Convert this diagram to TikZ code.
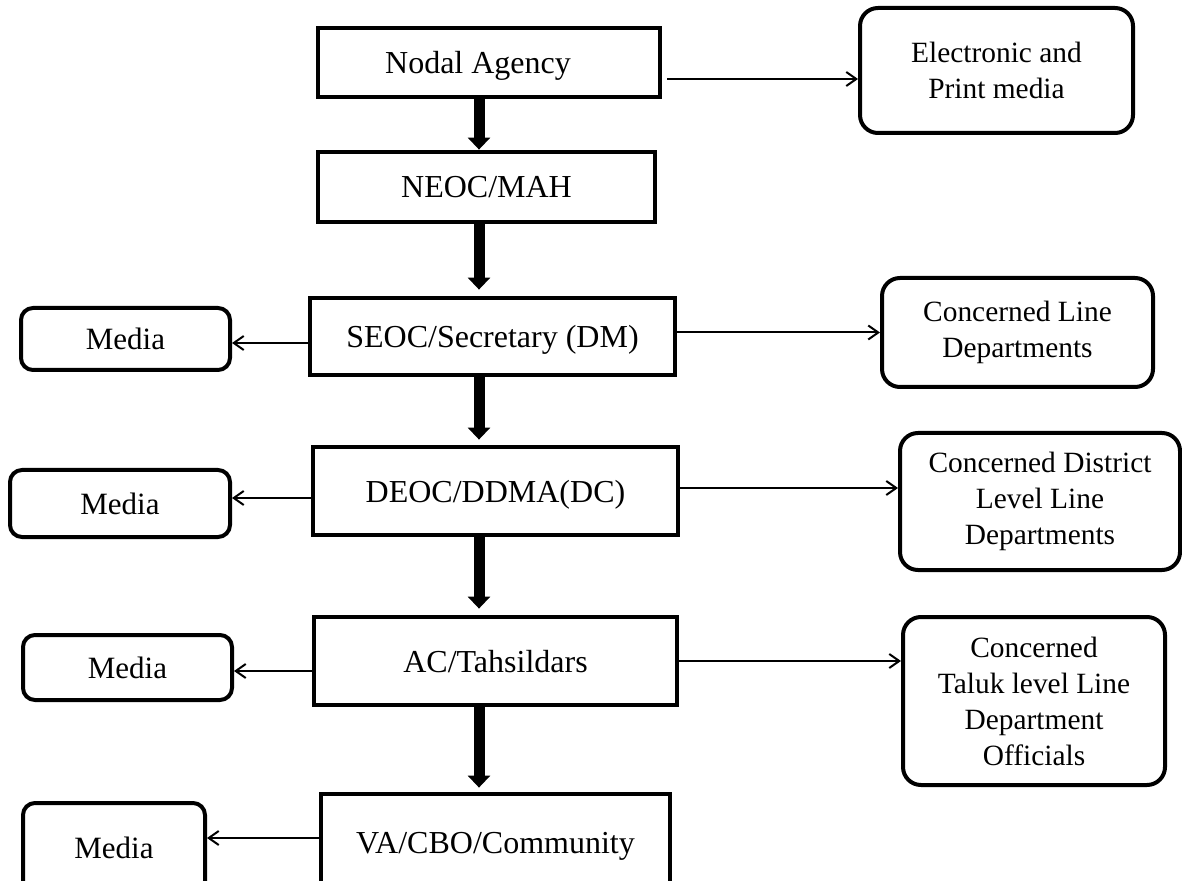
\documentclass[tikz,border=0pt]{standalone}
\usepackage{fontspec}
\setmainfont{Liberation Serif}
\usetikzlibrary{arrows.meta}

\begin{document}
\begin{tikzpicture}[
    x=0.5pt, y=-0.5pt,
    % Define styles
    levelbox/.style={
        rectangle,
        draw,
        line width=2.4pt,
        inner sep=0pt,
        text depth=0pt,
        align=center,
        font=\fontsize{16}{19}\selectfont
    },
    sidebox/.style={
        rectangle,
        rounded corners=9pt,
        draw,
        line width=2pt,
        inner sep=0pt,
        align=center,
        font=\fontsize{14.7}{18}\selectfont
    },
    mediabox/.style={
        rectangle,
        rounded corners=6pt,
        draw,
        line width=2pt,
        inner sep=0pt,
        text depth=0pt,
        font=\fontsize{15.5}{18}\selectfont
    },
    downarrow/.style={
        -{Triangle[length=6pt,width=11pt]},
        line width=5.5pt
    },
    sidearrow/.style={
        -{Straight Barb[length=5pt,width=7pt]},
        line width=1pt
    }
]

% Frame of the page
\useasboundingbox (0,0) rectangle (1182,881);
\clip (0,0) rectangle (1182,881);

% Variables
\def\spinex{479}
\def\printy{79}
\def\mediaAy{343}
\def\mediaBy{498}
\def\mediaCy{671}
\def\mediaDy{838}
\def\districty{488}
\coordinate (spine) at (\spinex,0);

% Chain of levels
\node[levelbox, minimum width=171pt, minimum height=34.5pt] (nodal) at (489,62.5) {Nodal Agency\hspace{11pt}};
\node[levelbox, minimum width=168.5pt, minimum height=35pt] (neoc) at (486.5,187) {NEOC/MAH};
\node[levelbox, minimum width=182.5pt, minimum height=38.5pt] (seoc) at (492.5,336.5) {SEOC/Secretary (DM)};
\node[levelbox, minimum width=182.5pt, minimum height=44pt] (deoc) at (495.5,491) {DEOC/DDMA(DC)};
\node[levelbox, minimum width=181.5pt, minimum height=44pt] (ac) at (495.5,661) {AC/Tahsildars};
\node[levelbox, minimum width=174.5pt, minimum height=49pt] (va) at (495.5,843) {VA/CBO/Community};

% Departments on the right
\node[sidebox, minimum width=136.5pt, minimum height=62.5pt] (print) at (996.5,70.5) {Electronic and\\Print media};
\node[sidebox, minimum width=135.5pt, minimum height=54.5pt] (linedept) at (1017.5,332.5) {Concerned Line\\Departments};
\node[sidebox, minimum width=140pt, minimum height=68.5pt] (district) at (1040,501.5) {Concerned District\\Level Line\\Departments};
\node[sidebox, minimum width=131pt, minimum height=84pt] (taluk) at (1034,701) {Concerned\\Taluk level Line\\Department\\Officials};

% Media on the left
\node[mediabox, minimum width=104.5pt, minimum height=31pt] (mediaA) at (125.5,339) {Media};
\node[mediabox, minimum width=110pt, minimum height=33.5pt] (mediaB) at (120,503.5) {Media};
\node[mediabox, minimum width=104.5pt, minimum height=32.5pt] (mediaC) at (127.5,667.5) {Media};
\node[mediabox, minimum width=91pt, minimum height=45pt] (mediaD) at (114,848) {Media};

% Thick arrows down the chain
\draw[downarrow] (nodal.south -| spine) -- (neoc.north -| spine);
\draw[downarrow, shorten >=3pt] (neoc.south -| spine) -- (seoc.north -| spine);
\draw[downarrow, shorten >=2.5pt] (seoc.south -| spine) -- (deoc.north -| spine);
\draw[downarrow, shorten >=3pt] (deoc.south -| spine) -- (ac.north -| spine);
\draw[downarrow, shorten >=2pt] (ac.south -| spine) -- (va.north -| spine);

% Arrows to the right
\draw[sidearrow, shorten <=2.5pt] (nodal.east |- 0,\printy) -- (print.west |- 0,\printy);
\draw[sidearrow] (seoc.east |- linedept.west) -- (linedept.west);
\draw[sidearrow] (deoc.east |- 0,\districty) -- (district.west |- 0,\districty);
\draw[sidearrow] (ac.east) -- (taluk.west |- ac.east);

% Arrows to the left
\draw[sidearrow] (seoc.west |- 0,\mediaAy) -- (mediaA.east |- 0,\mediaAy);
\draw[sidearrow] (deoc.west |- 0,\mediaBy) -- (mediaB.east |- 0,\mediaBy);
\draw[sidearrow] (ac.west |- 0,\mediaCy) -- (mediaC.east |- 0,\mediaCy);
\draw[sidearrow] (va.west |- 0,\mediaDy) -- (mediaD.east |- 0,\mediaDy);

\end{tikzpicture}
\end{document}
